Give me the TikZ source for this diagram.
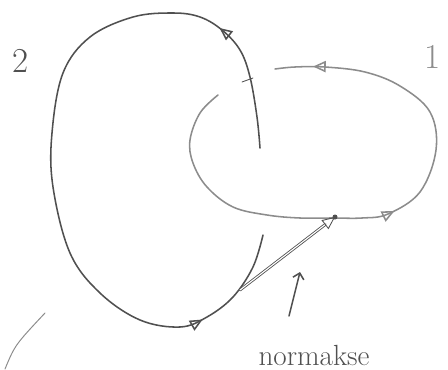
\documentclass[tikz,border=0pt]{standalone}
\usetikzlibrary{arrows.meta, decorations.markings}
\definecolor{pencildark}{RGB}{80,80,80}
\definecolor{pencillight}{RGB}{140,140,140}

\begin{document}
\begin{tikzpicture}[x=0.025cm, y=-0.025cm, >=Stealth,
  pencil/.style={line width=1.1pt, line cap=round, pencildark},
  faint/.style={line width=1.1pt, line cap=round, pencillight},
  flowmarks/.style 2 args={postaction={decorate}, decoration={markings,
      mark=at position #1 with {\arrow{Triangle[open, length=9pt, width=8pt]}},
      mark=at position #2 with {\arrow{Triangle[open, length=9pt, width=8pt]}}}},
  scrawl/.style={pencildark, inner sep=0pt}]
  \useasboundingbox (0,0) rectangle (448,369);

  % curve 1
  \draw[faint, flowmarks={0.515}{0.935}] plot[smooth, tension=0.6] coordinates {
    (218,95) (200,113) (190,140) (193,163) (207,187) (233,207) (267,215)
    (300,218) (333,218) (362,218) (388,214) (420,192) (436,150) (430,112)
    (400,86) (365,72) (325,67) (295,67) (275,69)};

  % curve 2
  \draw[pencil, flowmarks={0.17}{0.86}] plot[smooth, tension=0.6] coordinates {
    (260,148) (257,117) (250,77) (240,50) (222,30) (200,17) (173,13)
    (133,17) (90,37) (63,73) (52,133) (53,187) (70,253) (100,293)
    (140,320) (180,327) (207,317) (233,297) (253,267) (263,235)};
  \draw[pencil, line width=0.6pt] (242,82) -- (253,78);

  % normalakse
  \coordinate (foot) at (240,290);
  \coordinate (tip) at (335,217);
  \draw[pencil, double=white, double distance=0.8pt, line width=0.6pt,
        -{Triangle[open, length=9pt, width=8pt]}] (foot) -- (tip);
  \fill[pencildark] (tip) circle (2.5);

  \coordinate (pointbase) at (289,316);
  \coordinate (pointtip) at (300,272);
  \draw[pencil, -{Straight Barb[length=4pt]}] (pointbase) -- (pointtip);

  \draw[faint, line width=0.7pt] (5,369) .. controls (15,345) .. (45,313);

  \node[scrawl, font=\Huge] (lbltwo) at (21,61) {2};
  \node[scrawl, font=\Huge, pencillight] (lblone) at (433,57) {1};
  \node[scrawl, font=\huge] (lblaxis) at (314,355) {normakse};
\end{tikzpicture}
\end{document}
